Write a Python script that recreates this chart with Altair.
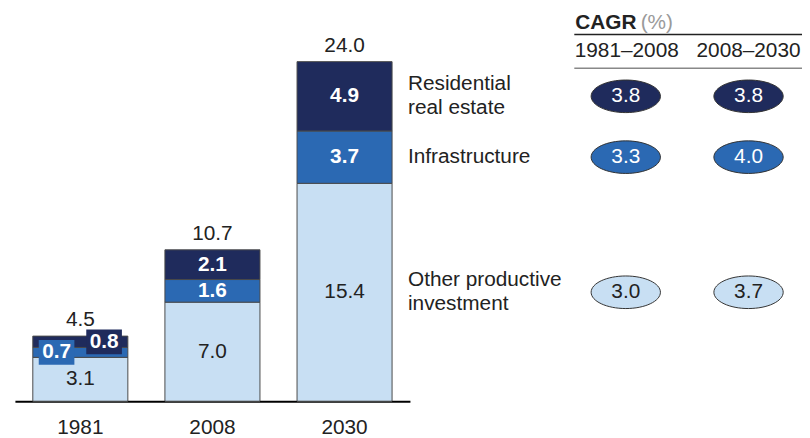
import altair as alt
import pandas as pd

# ---------------- data ----------------
years = ["1981", "2008", "2030"]
other = [3.1, 7.0, 15.4]
infra = [0.7, 1.6, 3.7]
resid = [0.8, 2.1, 4.9]
totals = [4.5, 10.7, 24.0]

segments = ["Other productive investment", "Infrastructure", "Residential real estate"]
segment_lines = [["Other productive", "investment"], ["Infrastructure"], ["Residential", "real estate"]]
colors = ["#c8dff3", "#2b69b3", "#1f2b5c"]

periods = ["1981–2008", "2008–2030"]
cagr_other = [3.0, 3.7]
cagr_infra = [3.3, 4.0]
cagr_resid = [3.8, 3.8]

FONT = "Liberation Sans"
FS = 21
LH = 24

# ---------------- tables ----------------
rows = []
for i, yr in enumerate(years):
    base = 0.0
    for seg, vals in zip(segments, [other, infra, resid]):
        v = vals[i]
        rows.append({"year": yr, "segment": seg, "value": v, "start": base,
                     "end": base + v, "mid": base + v / 2, "label": f"{v:.1f}"})
        base += v
bars = pd.DataFrame(rows)

tops = bars.groupby("year")["end"].max().reindex(years).values
tot = pd.DataFrame({"year": years, "top": tops, "label": [f"{t:.1f}" for t in totals]})

last = bars[bars.year == years[-1]].set_index("segment")
side = pd.DataFrame({"segment": segments, "lines": segment_lines,
                     "n": [len(l) for l in segment_lines],
                     "mid": [last.loc[s, "mid"] for s in segments]})

crow = []
for seg, vals in zip(segments, [cagr_other, cagr_infra, cagr_resid]):
    for p, v in zip(periods, vals):
        crow.append({"segment": seg, "period": p, "value": v,
                     "label": f"{v:.1f}", "mid": last.loc[seg, "mid"]})
cagr = pd.DataFrame(crow)

one = pd.DataFrame({"k": [0]})

# ---------------- encodings ----------------
X = alt.X("year:N", sort=years,
          scale=alt.Scale(range=[7, 406], paddingInner=0.27, paddingOuter=0.13),
          axis=alt.Axis(title=None, labelAngle=0, ticks=False, domainColor="black",
                        domainWidth=2, labelFontSize=FS, labelFont=FONT,
                        labelColor="#222", labelPadding=16))
YSCALE = alt.Scale(domain=[0, 27.64], nice=False, zero=True)


def Y(f):
    return alt.Y(f, scale=YSCALE, axis=None)


FILL = alt.Fill("segment:N", scale=alt.Scale(domain=segments, range=colors), legend=None)

bar_layer = alt.Chart(bars).mark_bar(stroke="#4a4a4a", strokeWidth=1, size=96).encode(
    x=X, y=Y("start:Q"), y2="end:Q", fill=FILL)

other_txt = alt.Chart(bars).transform_filter(
    alt.datum.segment == segments[0]).mark_text(
    font=FONT, fontSize=FS, color="#222", baseline="middle").encode(
    x=X, y=Y("mid:Q"), text="label:N")

bold_txt = alt.Chart(bars).transform_filter(
    (alt.datum.segment != segments[0]) & (alt.datum.year != years[0])).mark_text(
    font=FONT, fontSize=FS, fontWeight="bold", color="white", baseline="middle").encode(
    x=X, y=Y("mid:Q"), text="label:N")

BOX = "M-1,-0.694V0.694H1V-0.694Z"
small_layers = []
for seg, off in [(segments[1], -24), (segments[2], 24)]:
    src = alt.Chart(bars).transform_filter(
        (alt.datum.segment == seg) & (alt.datum.year == years[0]))
    small_layers.append(src.mark_point(shape=BOX, size=1296, filled=True, opacity=1,
                                       strokeWidth=0, xOffset=off).encode(
        x=X, y=Y("mid:Q"), fill=FILL))
    small_layers.append(src.mark_text(font=FONT, fontSize=FS, fontWeight="bold",
                                      color="white", baseline="middle", dx=off).encode(
        x=X, y=Y("mid:Q"), text="label:N"))

tot_txt = alt.Chart(tot).mark_text(font=FONT, fontSize=FS, color="#222",
                                   baseline="middle", dy=-16).encode(
    x=X, y=Y("top:Q"), text="label:N")

side_layers = []
for n in sorted(set(side["n"])):
    side_layers.append(alt.Chart(side).transform_filter(alt.datum.n == n).mark_text(
        font=FONT, fontSize=FS, color="#222", align="left", baseline="middle",
        lineHeight=LH, dy=-(n - 1) * LH / 2).encode(
        x=alt.value(404), y=Y("mid:Q"), text="lines"))

ELL = "M-1,0A1,0.47,0,1,1,1,0A1,0.47,0,1,1,-1,0Z"
cagr_layers = []
for p, px in zip(periods, [624, 748]):
    src = alt.Chart(cagr).transform_filter(alt.datum.period == p)
    cagr_layers.append(src.mark_point(shape=ELL, size=4900, filled=True, opacity=1,
                                      stroke="#333", strokeWidth=1).encode(
        x=alt.value(px), y=Y("mid:Q"), fill=FILL))
    cagr_layers.append(src.mark_text(font=FONT, fontSize=FS, baseline="middle").encode(
        x=alt.value(px), y=Y("mid:Q"), text="label:N",
        color=alt.condition(alt.datum.segment == segments[0],
                            alt.value("#222"), alt.value("white"))))

hdr = alt.Chart(one)
header = [
    hdr.mark_text(font=FONT, fontSize=FS, fontWeight="bold", color="#222",
                  align="left", baseline="alphabetic", text="CAGR").encode(
        x=alt.value(573), y=alt.value(19)),
    hdr.mark_text(font=FONT, fontSize=FS, color="#9a9a9a",
                  align="left", baseline="alphabetic", text="(%)").encode(
        x=alt.value(639), y=alt.value(19)),
    hdr.mark_rule(color="#222", strokeWidth=1.5).encode(
        x=alt.value(572), x2=alt.value(802), y=alt.value(24.5)),
    hdr.mark_rule(color="#888", strokeWidth=1.5).encode(
        x=alt.value(572), x2=alt.value(802), y=alt.value(58.7)),
]
for p, px in zip(periods, [625, 748]):
    header.append(hdr.mark_text(font=FONT, fontSize=FS, color="#222",
                                baseline="middle", text=p).encode(
        x=alt.value(px), y=alt.value(41)))

chart = alt.layer(bar_layer, other_txt, bold_txt, *small_layers, tot_txt, *side_layers,
                  *cagr_layers, *header).properties(
    width=794, height=395, autosize="none",
    padding={"left": 0, "top": 0, "right": 8, "bottom": 35},
).configure(background="white").configure_view(strokeWidth=0)

chart.save("out.html", embed_options={"renderer": "svg", "actions": False})
